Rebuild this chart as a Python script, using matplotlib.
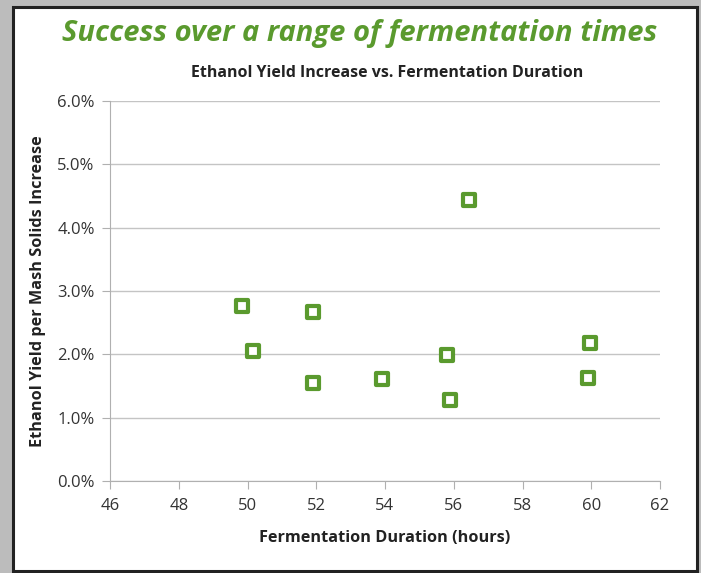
import matplotlib
matplotlib.use("Agg")
import matplotlib.pyplot as plt
from matplotlib.patches import Rectangle
from matplotlib.ticker import FuncFormatter

# fermentation duration (hours) vs ethanol yield increase (%)
hours = [49.85, 50.15, 51.9, 51.9, 53.9, 55.8, 55.9, 56.45, 59.95, 59.9]
yield_pct = [2.76, 2.05, 2.67, 1.55, 1.61, 1.99, 1.28, 4.44, 2.18, 1.63]

x_ticks = [46, 48, 50, 52, 54, 56, 58, 60, 62]
y_ticks = [0, 1, 2, 3, 4, 5, 6]

green = "#5a9a2e"
txt = "#333333"

plt.rcParams["font.family"] = ["Open Sans", "DejaVu Sans"]

fig = plt.figure(figsize=(7.01, 5.73), dpi=100, facecolor="#bcbcbc")

# white panel with dark frame
panel = Rectangle((13 / 701, 2 / 573), 684 / 701, 564 / 573, transform=fig.transFigure,
                  facecolor="white", edgecolor="#222222", linewidth=2.2, zorder=-5)
fig.patches.append(panel)

ax = fig.add_axes([110 / 701, 92 / 573, 550 / 701, 380 / 573])
ax.set_facecolor("none")
ax.scatter(hours, yield_pct, marker="s", s=66, facecolor="white",
           edgecolor=green, linewidth=3.0, zorder=3)

ax.set_xlim(46, 62)
ax.set_ylim(0, 6)
ax.set_xticks(x_ticks)
ax.set_yticks(y_ticks)
ax.yaxis.set_major_formatter(FuncFormatter(lambda v, p: f"{v:.1f}%"))
ax.grid(axis="y", color="#c4c4c4", linewidth=1)
ax.set_axisbelow(True)
for s in ["top", "right"]:
    ax.spines[s].set_visible(False)
for s in ["left", "bottom"]:
    ax.spines[s].set_color("#b0b0b0")
ax.tick_params(colors="#b0b0b0", labelcolor=txt, labelsize=12, length=6)
ax.tick_params(axis="y", pad=5)
ax.tick_params(axis="x", pad=6)

ax.set_xlabel("Fermentation Duration (hours)", fontsize=11.7, fontweight="bold",
              color="#222222", labelpad=12)
ax.set_ylabel("Ethanol Yield per Mash Solids Increase", fontsize=11.7,
              fontweight="bold", color="#222222", labelpad=8)

fig.text(360 / 701, 1 - 33 / 573, "Success over a range of fermentation times",
         ha="center", va="center", fontsize=21, fontweight="bold",
         fontstyle="italic", color=green)
fig.text(387 / 701, 1 - 73 / 573, "Ethanol Yield Increase vs. Fermentation Duration",
         ha="center", va="center", fontsize=11.5, fontweight="bold", color="#222222")

fig.savefig("out.png", dpi=100, facecolor=fig.get_facecolor())
